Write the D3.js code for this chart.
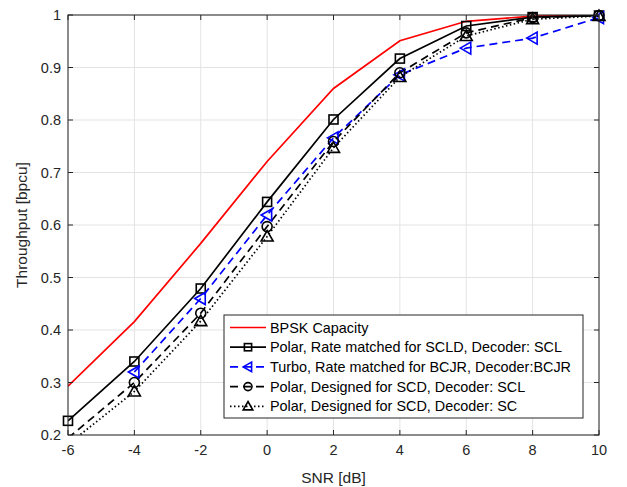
<!DOCTYPE html>
<html>
<head>
<meta charset="utf-8">
<script src="https://cdn.jsdelivr.net/npm/d3@7"></script>
<style>
  body { margin: 0; background: #fff; }
  svg { font-family: "Liberation Sans", Arial, sans-serif; }
</style>
</head>
<body>
<svg id="chart" width="627" height="487"></svg>
<script>
// data
var snr = [-6, -4, -2, 0, 2, 4, 6, 8, 10];
var bpskCapacity = [0.293, 0.416, 0.565, 0.721, 0.860, 0.951, 0.988, 0.998, 1.0];
var polarRmScl = [0.227, 0.340, 0.479, 0.644, 0.801, 0.917, 0.979, 0.996, 0.999];
var turboBcjr = [null, 0.320, 0.460, 0.619, 0.766, 0.886, 0.937, 0.956, 0.995];
var polarScdScl = [0.194, 0.300, 0.432, 0.597, 0.759, 0.890, 0.966, 0.995, 0.999];
var polarScdSc = [0.182, 0.283, 0.417, 0.578, 0.747, 0.882, 0.960, 0.992, 0.998];
var xTicks = [-6, -4, -2, 0, 2, 4, 6, 8, 10];
var yTicks = [0.2, 0.3, 0.4, 0.5, 0.6, 0.7, 0.8, 0.9, 1];

var series = [
  { name: 'BPSK Capacity', values: bpskCapacity, color: '#ff0000', dash: null, marker: null },
  { name: 'Polar, Rate matched for SCLD, Decoder: SCL', values: polarRmScl, color: '#000', dash: null, marker: 'square' },
  { name: 'Turbo, Rate matched for BCJR, Decoder:BCJR', values: turboBcjr, color: '#0000ff', dash: '8,5', marker: 'tri-left' },
  { name: 'Polar, Designed for SCD, Decoder: SCL', values: polarScdScl, color: '#000', dash: '8,5', marker: 'circle' },
  { name: 'Polar, Designed for SCD, Decoder: SC', values: polarScdSc, color: '#000', dash: '1.5,2.5', marker: 'tri-up' }
];

var margin = { top: 15, right: 28, bottom: 52, left: 68 };
var W = 627, H = 487;
var w = W - margin.left - margin.right, h = H - margin.top - margin.bottom;

var svg = d3.select('#chart');
var g = svg.append('g').attr('transform', 'translate(' + margin.left + ',' + margin.top + ')');

var x = d3.scaleLinear().domain([-6, 10]).range([0, w]);
var y = d3.scaleLinear().domain([0.2, 1]).range([h, 0]);

g.append('rect').attr('width', w).attr('height', h).attr('fill', '#fff');

// grid
g.append('g').selectAll('line').data(xTicks).enter().append('line')
  .attr('x1', function (d) { return x(d); }).attr('x2', function (d) { return x(d); })
  .attr('y1', 0).attr('y2', h).attr('stroke', '#e3e3e3').attr('stroke-width', 1);
g.append('g').selectAll('line').data(yTicks).enter().append('line')
  .attr('y1', function (d) { return y(d); }).attr('y2', function (d) { return y(d); })
  .attr('x1', 0).attr('x2', w).attr('stroke', '#e3e3e3').attr('stroke-width', 1);

svg.append('clipPath').attr('id', 'clip').append('rect').attr('width', w).attr('height', h);

var plot = g.append('g').attr('clip-path', 'url(#clip)');

var line = d3.line()
  .defined(function (d) { return d[1] != null; })
  .x(function (d) { return x(d[0]); })
  .y(function (d) { return y(d[1]); });

function drawMarker(sel, type, color, cx, cy, k) {
  k = k || 1;
  var a = 4.5 * k, b = 6 * k;
  if (type === 'square') {
    sel.append('rect').attr('x', cx - a).attr('y', cy - a).attr('width', 2 * a).attr('height', 2 * a)
      .attr('fill', 'none').attr('stroke', color).attr('stroke-width', 1.6);
  } else if (type === 'circle') {
    sel.append('circle').attr('cx', cx).attr('cy', cy).attr('r', 5 * k)
      .attr('fill', 'none').attr('stroke', color).attr('stroke-width', 1.6);
  } else if (type === 'tri-up') {
    sel.append('path').attr('d', 'M' + cx + ',' + (cy - b) + 'L' + (cx + b) + ',' + (cy + a) + 'L' + (cx - b) + ',' + (cy + a) + 'Z')
      .attr('fill', 'none').attr('stroke', color).attr('stroke-width', 1.6);
  } else if (type === 'tri-left') {
    sel.append('path').attr('d', 'M' + (cx - b) + ',' + cy + 'L' + (cx + a) + ',' + (cy - b) + 'L' + (cx + a) + ',' + (cy + b) + 'Z')
      .attr('fill', 'none').attr('stroke', color).attr('stroke-width', 1.6);
  }
}

series.forEach(function (s) {
  var pts = snr.map(function (v, i) { return [v, s.values[i]]; });
  plot.append('path').datum(pts)
    .attr('d', line)
    .attr('fill', 'none')
    .attr('stroke', s.color)
    .attr('stroke-width', 1.7)
    .attr('stroke-dasharray', s.dash);
  if (s.marker) {
    var mg = g.append('g');
    pts.forEach(function (p) {
      if (p[1] == null || p[1] < 0.2) return;
      drawMarker(mg, s.marker, s.color, x(p[0]), y(p[1]));
    });
  }
});

// axes box and ticks
var axisColor = '#262626';
g.append('rect').attr('width', w).attr('height', h).attr('fill', 'none')
  .attr('stroke', axisColor).attr('stroke-width', 1);

xTicks.forEach(function (t) {
  g.append('line').attr('x1', x(t)).attr('x2', x(t)).attr('y1', h).attr('y2', h - 5).attr('stroke', axisColor);
  g.append('line').attr('x1', x(t)).attr('x2', x(t)).attr('y1', 0).attr('y2', 5).attr('stroke', axisColor);
  g.append('text').attr('x', x(t)).attr('y', h + 20).attr('text-anchor', 'middle')
    .attr('font-size', 14.5).attr('fill', axisColor).text(t);
});
yTicks.forEach(function (t) {
  g.append('line').attr('x1', 0).attr('x2', 5).attr('y1', y(t)).attr('y2', y(t)).attr('stroke', axisColor);
  g.append('line').attr('x1', w).attr('x2', w - 5).attr('y1', y(t)).attr('y2', y(t)).attr('stroke', axisColor);
  g.append('text').attr('x', -7).attr('y', y(t)).attr('dy', '0.35em').attr('text-anchor', 'end')
    .attr('font-size', 14.5).attr('fill', axisColor).text(t);
});

// axis labels
svg.append('text').attr('x', margin.left + w / 2).attr('y', 483).attr('text-anchor', 'middle')
  .attr('font-size', 15.5).attr('fill', axisColor).text('SNR [dB]');
svg.append('text').attr('transform', 'translate(27,' + (margin.top + h / 2) + ') rotate(-90)')
  .attr('text-anchor', 'middle').attr('font-size', 15.5).attr('fill', axisColor).text('Throughput [bpcu]');

// legend
var lg = svg.append('g').attr('transform', 'translate(224,315)');
lg.append('rect').attr('width', 359).attr('height', 103).attr('fill', '#fff')
  .attr('stroke', axisColor).attr('stroke-width', 1);
series.forEach(function (s, i) {
  var cy = 12.5 + i * 19.7;
  lg.append('line').attr('x1', 6).attr('x2', 42).attr('y1', cy).attr('y2', cy)
    .attr('stroke', s.color).attr('stroke-width', 1.7).attr('stroke-dasharray', s.dash);
  if (s.marker) drawMarker(lg, s.marker, s.color, 24, cy, 0.8);
  lg.append('text').attr('x', 46).attr('y', cy).attr('dy', '0.35em')
    .attr('font-size', 14.4).attr('fill', '#000').text(s.name);
});
</script>
</body>
</html>
